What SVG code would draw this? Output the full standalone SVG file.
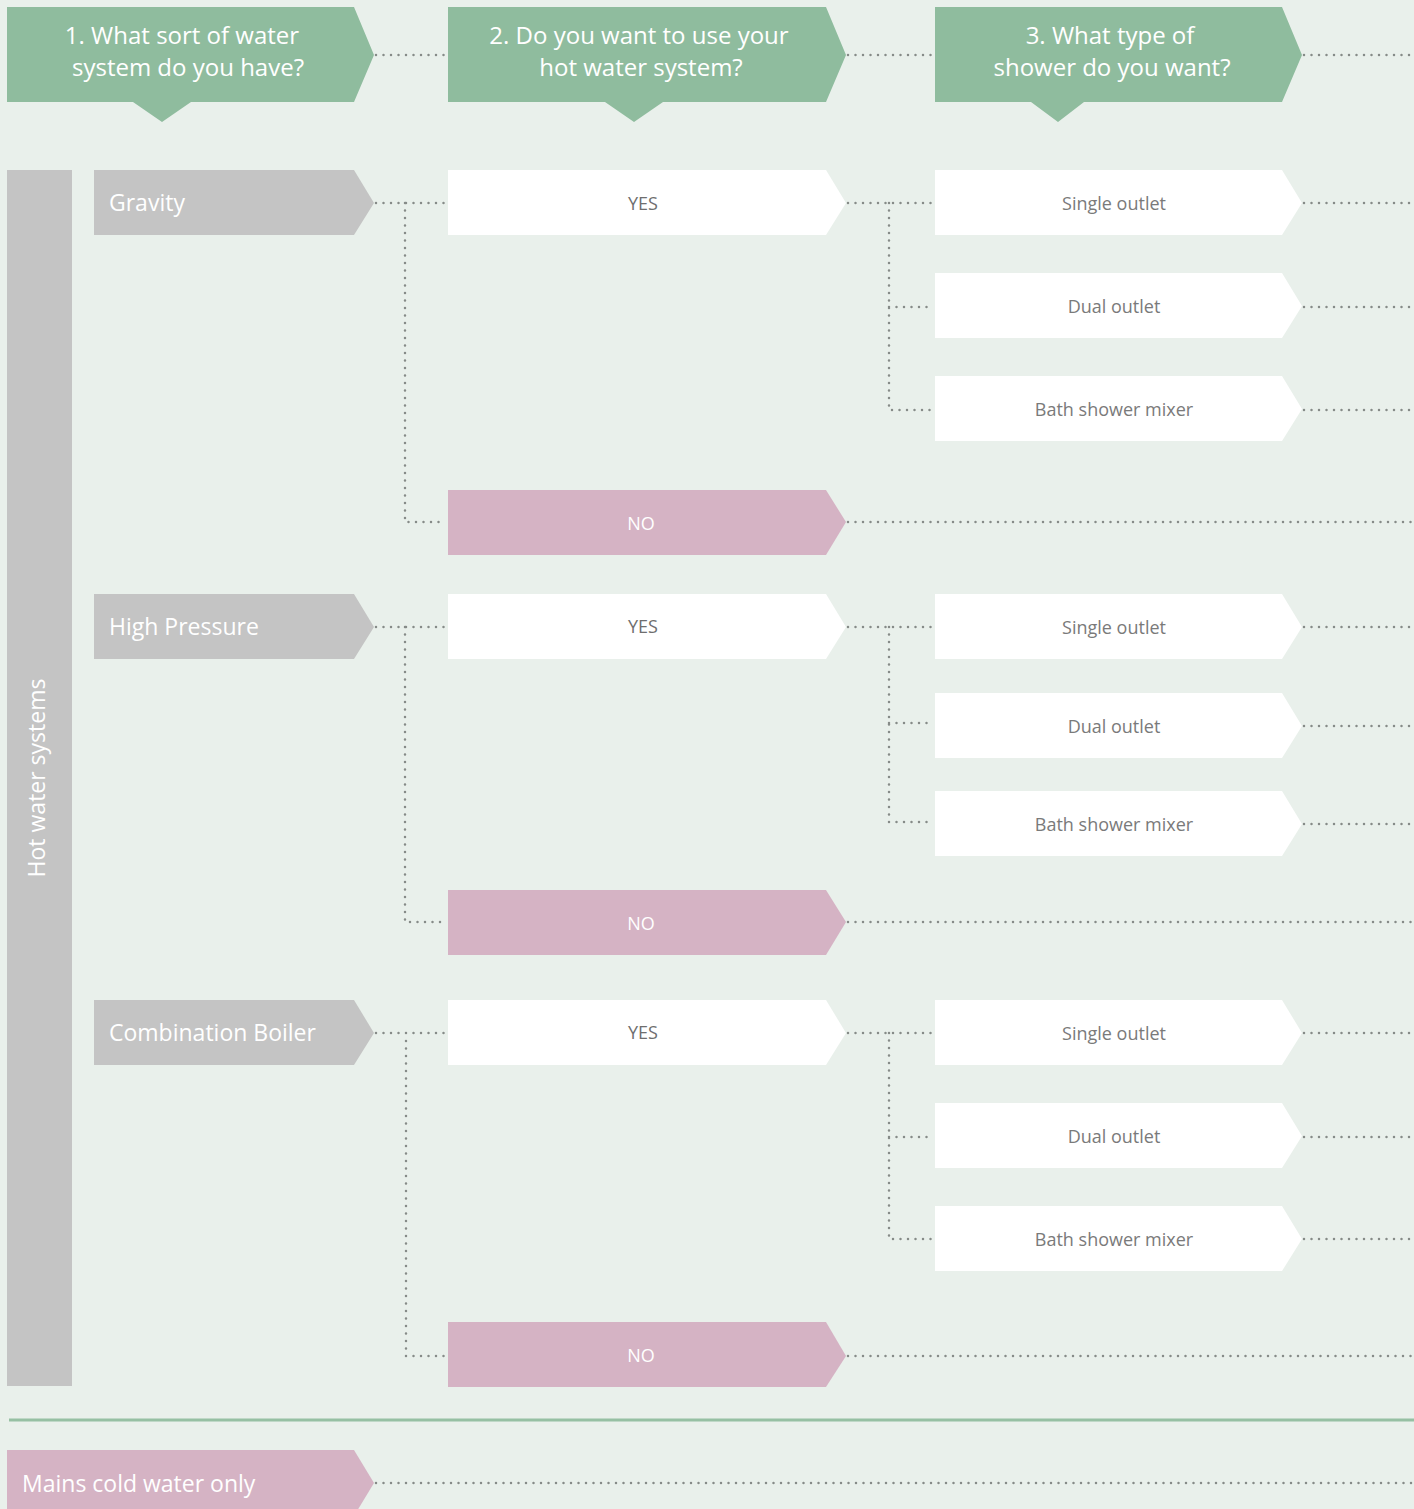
<svg xmlns="http://www.w3.org/2000/svg" width="1414" height="1509" viewBox="0 0 1414 1509">
<defs>
<style>
.hdr{fill:#8fbc9e}
.sys{fill:#c4c4c4}
.yes{fill:#ffffff}
.no{fill:#d5b3c4}
.sh{fill:#ffffff}
.t{font-family:"Open Sans","Noto Sans",sans-serif}
.ht{font-size:24px;fill:#ffffff;text-anchor:middle}
.st{font-size:23px;fill:#ffffff}
.yt{font-size:18px;fill:#6e6e6e;text-anchor:middle}
.nt{font-size:18px;fill:#ffffff;text-anchor:middle}
.sht{font-size:18px;fill:#7a7a7a;text-anchor:middle}
.dot{fill:none;stroke:#868b88;stroke-width:2.5;stroke-linecap:round;stroke-dasharray:0 7.5}
</style>
</defs>
<rect x="0" y="0" width="1414" height="1509" fill="#e9f0eb"/>

<g id="connectors">
<path class="dot" d="M376 55H446M848 55H933M1304 55H1414"/>
<path class="dot" d="M376 203H446M405 203V522H446"/>
<path class="dot" d="M848 203H933M889 203V410H933M889 307H933"/>
<path class="dot" d="M1304 203H1414M1304 307H1414M1304 410H1414"/>
<path class="dot" d="M848 522H1414"/>
<path class="dot" d="M376 627H446M405 627V922H446"/>
<path class="dot" d="M848 627H933M889 627V822H933M889 723H933"/>
<path class="dot" d="M1304 627H1414M1304 726H1414M1304 824H1414"/>
<path class="dot" d="M848 922H1414"/>
<path class="dot" d="M376 1033H446M406 1041V1356H446"/>
<path class="dot" d="M848 1033H933M889 1033V1239H933M889 1137H933"/>
<path class="dot" d="M1304 1033H1414M1304 1137H1414M1304 1239H1414"/>
<path class="dot" d="M848 1356H1414"/>
<path class="dot" d="M376 1483H1414"/>
</g>

<g id="h1"><path class="hdr" d="M7 7H354L374 55L354 102H191L162 122L133 102H7Z"/><text class="t ht" x="182" y="44">1. What sort of water</text><text class="t ht" x="188" y="76">system do you have?</text></g>
<g id="h2"><path class="hdr" d="M448 7H826L846 55L826 102H663L634 122L605 102H448Z"/><text class="t ht" x="639" y="44">2. Do you want to use your</text><text class="t ht" x="641" y="76">hot water system?</text></g>
<g id="h3"><path class="hdr" d="M935 7H1282L1302 55L1282 102H1084L1058 122L1031 102H935Z"/><text class="t ht" x="1110" y="44">3. What type of</text><text class="t ht" x="1112" y="76">shower do you want?</text></g>

<g id="hot-water-systems"><rect class="sys" x="7" y="170" width="65" height="1216"/><text class="t" font-size="23" fill="#ffffff" text-anchor="middle" transform="translate(45 778) rotate(-90)">Hot water systems</text></g>

<g id="gravity"><path class="sys" d="M94 170H354L374 203L354 235H94Z"/><text class="t st" x="109" y="211">Gravity</text></g>
<g id="high-pressure"><path class="sys" d="M94 594H354L374 627L354 659H94Z"/><text class="t st" x="109" y="635">High Pressure</text></g>
<g id="combination-boiler"><path class="sys" d="M94 1000H354L374 1033L354 1065H94Z"/><text class="t st" x="109" y="1041">Combination Boiler</text></g>

<g id="yes-1"><path class="yes" d="M448 170H826L846 203L826 235H448Z"/><text class="t yt" x="643" y="210">YES</text></g>
<g id="no-1"><path class="no" d="M448 490H826L846 522L826 555H448Z"/><text class="t nt" x="641" y="530">NO</text></g>
<g id="yes-2"><path class="yes" d="M448 594H826L846 627L826 659H448Z"/><text class="t yt" x="643" y="633">YES</text></g>
<g id="no-2"><path class="no" d="M448 890H826L846 922L826 955H448Z"/><text class="t nt" x="641" y="930">NO</text></g>
<g id="yes-3"><path class="yes" d="M448 1000H826L846 1033L826 1065H448Z"/><text class="t yt" x="643" y="1039">YES</text></g>
<g id="no-3"><path class="no" d="M448 1322H826L846 1356L826 1387H448Z"/><text class="t nt" x="641" y="1362">NO</text></g>

<g id="g-single"><path class="sh" d="M935 170H1282L1302 203L1282 235H935Z"/><text class="t sht" x="1114" y="210">Single outlet</text></g>
<g id="g-dual"><path class="sh" d="M935 273H1282L1302 306L1282 338H935Z"/><text class="t sht" x="1114" y="313">Dual outlet</text></g>
<g id="g-bath"><path class="sh" d="M935 376H1282L1302 409L1282 441H935Z"/><text class="t sht" x="1114" y="416">Bath shower mixer</text></g>

<g id="h-single"><path class="sh" d="M935 594H1282L1302 627L1282 659H935Z"/><text class="t sht" x="1114" y="634">Single outlet</text></g>
<g id="h-dual"><path class="sh" d="M935 693H1282L1302 726L1282 758H935Z"/><text class="t sht" x="1114" y="733">Dual outlet</text></g>
<g id="h-bath"><path class="sh" d="M935 791H1282L1302 824L1282 856H935Z"/><text class="t sht" x="1114" y="831">Bath shower mixer</text></g>

<g id="c-single"><path class="sh" d="M935 1000H1282L1302 1033L1282 1065H935Z"/><text class="t sht" x="1114" y="1040">Single outlet</text></g>
<g id="c-dual"><path class="sh" d="M935 1103H1282L1302 1136L1282 1168H935Z"/><text class="t sht" x="1114" y="1143">Dual outlet</text></g>
<g id="c-bath"><path class="sh" d="M935 1206H1282L1302 1239L1282 1271H935Z"/><text class="t sht" x="1114" y="1246">Bath shower mixer</text></g>

<g id="separator"><line x1="9" y1="1420" x2="1414" y2="1420" stroke="#96c0a3" stroke-width="3"/></g>

<g id="mains-cold"><path class="no" d="M7 1450H354L374 1483L354 1516H7Z"/><text class="t st" x="22" y="1492">Mains cold water only</text></g>
</svg>
